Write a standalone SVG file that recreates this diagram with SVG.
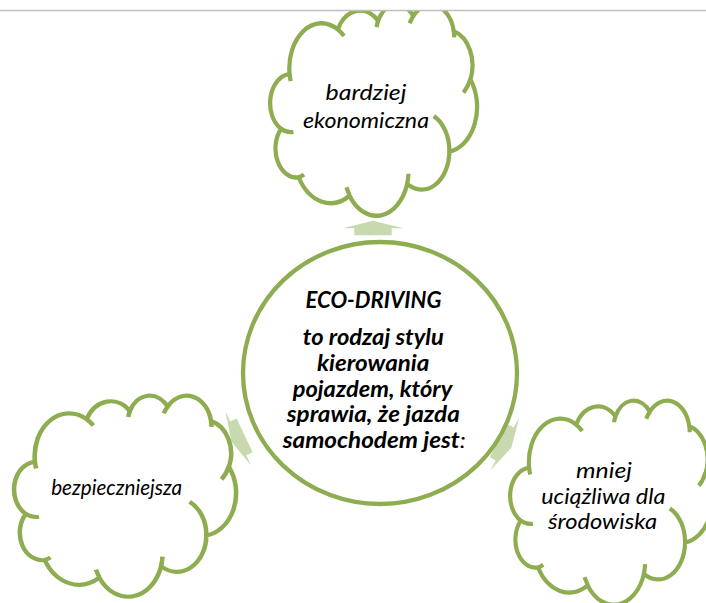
<svg xmlns="http://www.w3.org/2000/svg" width="706" height="603" viewBox="0 0 706 603">
<style>
.shape{fill:#fff;stroke:#8EAC50;stroke-width:4.3;stroke-linejoin:round}
.cl{fill:#fff;stroke:#8EAC50;stroke-width:890;stroke-linejoin:round}
.hook{fill:none;stroke:#8EAC50;stroke-width:890}
.arrow{fill:#C8D9AF;stroke:none}
.t{font-family:Lato,"Open Sans","Liberation Sans",sans-serif;font-style:italic;font-size:22px;fill:#000;text-anchor:middle}
.b{font-weight:bold}
</style>
<defs>
<path id="cloud" d="M3900,14370 A6753,9190 0 0 1 14005,5203 A5333,7267 0 0 1 22456,3433 A4365,5945 0 0 1 29834,2482 A4857,6595 0 0 1 38320,5577 A5333,7273 0 0 1 41820,15460 A6775,9220 0 0 1 37405,30202 A5785,7867 0 0 1 28557,36812 A6752,9215 0 0 1 16482,39265 A7720,10543 0 0 1 5806,35472 A4360,5918 0 0 1 2115,25550 A4345,5945 0 0 1 3900,14370 Z"/>
<path id="hooks" d="M4693,26177 A4345,5945 0 0 1 2115,25550 M6928,34899 A4360,5918 0 0 1 5806,35472 M16478,39090 A6752,9215 0 0 1 15813,37522 M28827,34751 A6752,9215 0 0 1 28557,36812 M34129,22954 A5785,7867 0 0 1 37405,30202 M41798,15354 A5333,7273 0 0 1 40372,18137 M38324,5426 A4857,6595 0 0 1 38396,6840 M29078,3952 A4857,6595 0 0 1 29834,2482 M22141,4720 A4365,5945 0 0 1 22456,3433 M14000,5192 A6753,9190 0 0 1 15305,6551 M4127,15789 A6753,9190 0 0 1 3900,14370"/>
<path id="arr" d="M-30.3,0 L0,-7.6 L30.3,0 L18.7,0 L18.7,7 L-18.7,7 L-18.7,0 Z"/>
<clipPath id="page"><rect x="0" y="11" width="706" height="592"/></clipPath>
</defs>
<rect width="706" height="603" fill="#fff"/>
<g id="connectors">
<use href="#arr" class="arrow" transform="translate(373,228.3)"/>
<use href="#arr" class="arrow" transform="translate(238.3,438.3) rotate(-115.2)"/>
<use href="#arr" class="arrow" transform="translate(504.7,444) rotate(118.75)"/>
</g>
<g id="node-top" clip-path="url(#page)">
<g transform="translate(271,4) scale(0.0047685,0.0048843)">
<use href="#cloud" class="cl"/>
<use href="#hooks" class="hook"/>
</g>
<text class="t" x="366" y="100" textLength="81" lengthAdjust="spacingAndGlyphs">bardziej</text>
<text class="t" x="366" y="127.7" textLength="126" lengthAdjust="spacingAndGlyphs">ekonomiczna</text>
</g>
<g id="node-left">
<g transform="translate(15,395) scale(0.0051157,0.0046528)">
<use href="#cloud" class="cl"/>
<use href="#hooks" class="hook"/>
</g>
<text class="t" x="116.7" y="495" textLength="131" lengthAdjust="spacingAndGlyphs">bezpieczniejsza</text>
</g>
<g id="node-right">
<g transform="translate(511,400) scale(0.0046528,0.0047222)">
<use href="#cloud" class="cl"/>
<use href="#hooks" class="hook"/>
</g>
<text class="t" x="604" y="478.3" textLength="56" lengthAdjust="spacingAndGlyphs">mniej</text>
<text class="t" x="603.3" y="504" textLength="124" lengthAdjust="spacingAndGlyphs">uciążliwa dla</text>
<text class="t" x="602.5" y="529.3" textLength="109" lengthAdjust="spacingAndGlyphs">środowiska</text>
</g>
<g id="node-center">
<ellipse class="shape" cx="380" cy="373" rx="137" ry="131"/>
<text class="t b" x="373.5" y="308" textLength="136" lengthAdjust="spacingAndGlyphs">ECO-DRIVING</text>
<text class="t b" x="373.3" y="345" textLength="141" lengthAdjust="spacingAndGlyphs">to rodzaj stylu</text>
<text class="t b" x="373.2" y="370.8" textLength="112.5" lengthAdjust="spacingAndGlyphs">kierowania</text>
<text class="t b" x="372.5" y="396.6" textLength="159.5" lengthAdjust="spacingAndGlyphs">pojazdem, który</text>
<text class="t b" x="373.3" y="422.4" textLength="173" lengthAdjust="spacingAndGlyphs">sprawia, że jazda</text>
<text class="t b" x="374.2" y="448.2" textLength="183" lengthAdjust="spacingAndGlyphs">samochodem jest<tspan font-weight="normal">:</tspan></text>
</g>
<line x1="0" y1="10.5" x2="706" y2="10.5" stroke="#BFBFBF" stroke-width="1.5"/>
</svg>
